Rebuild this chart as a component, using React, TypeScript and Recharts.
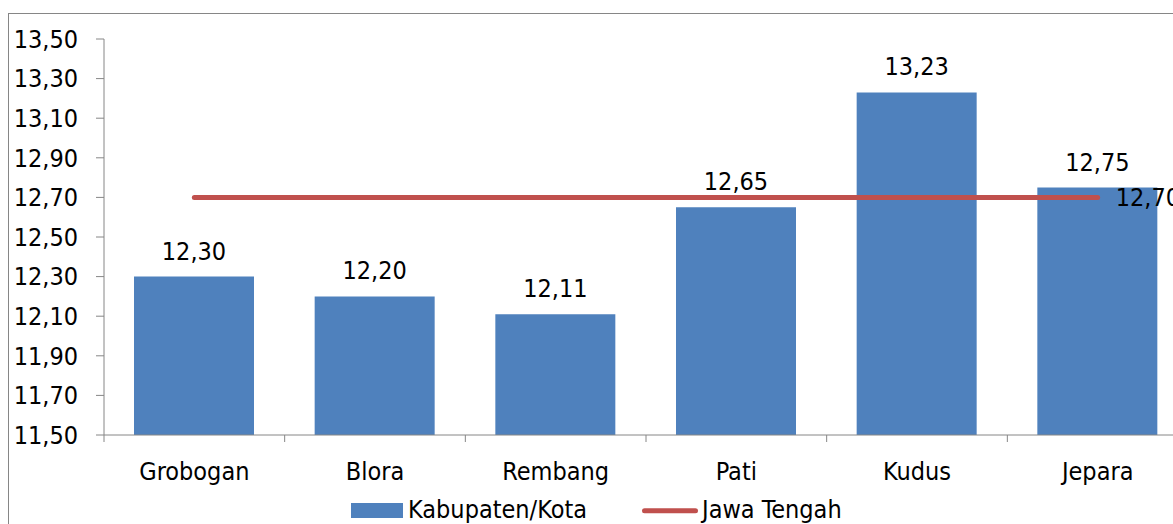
import React from 'react'
import { ComposedChart, Bar, Line, XAxis, YAxis, LabelList, Legend } from 'recharts'

const categories = ['Grobogan', 'Blora', 'Rembang', 'Pati', 'Kudus', 'Jepara']
const kabupatenKota = [12.3, 12.2, 12.11, 12.65, 13.23, 12.75]
const jawaTengah = [12.7, 12.7, 12.7, 12.7, 12.7, 12.7]
const yTicks = [11.5, 11.7, 11.9, 12.1, 12.3, 12.5, 12.7, 12.9, 13.1, 13.3, 13.5]

const data = categories.map((name, i) => ({
  name,
  kab: kabupatenKota[i],
  jateng: jawaTengah[i],
}))

const FONT = "'DejaVu Sans Condensed', 'DejaVu Sans', sans-serif"
const FS = 25
const GRAY = '#868686'
const BLUE = '#4F81BD'
const RED = '#C0504D'

const CHART_W = 1210
const CHART_H = 560
const MARGIN = { top: 39, right: 22, bottom: 75, left: 0 }
const Y_AXIS_W = 104
const BAND = (CHART_W - MARGIN.left - MARGIN.right - Y_AXIS_W) / categories.length

const fmt = (v: number) => v.toFixed(2).replace('.', ',')

const XTick = (props: any) => {
  const { x, y, payload } = props
  return (
    <g>
      <line x1={x - BAND / 2} x2={x - BAND / 2} y1={y} y2={y + 7} stroke={GRAY} />
      <text x={x} y={y + 45} textAnchor="middle" fill="#000" fontSize={FS} fontFamily={FONT}>
        {payload.value}
      </text>
    </g>
  )
}

const LastLabel = (props: any) => {
  const { x, y, value, index } = props
  if (index !== jawaTengah.length - 1) return null
  return (
    <text x={x + 18} y={y} dy="0.36em" fill="#000" fontSize={FS} fontFamily={FONT}>
      {fmt(value)}
    </text>
  )
}

const renderLegend = (props: any) => {
  const payload = props.payload || []
  const bar = payload.find((e: any) => e.type !== 'line')
  const line = payload.find((e: any) => e.type === 'line')
  return (
    <svg width={560} height={30} style={{ display: 'block' }}>
      {bar && (
        <g>
          <rect x={11} y={9} width={52} height={15} fill={bar.color} />
          <text x={68} y={24} fill="#000" fontSize={FS} fontFamily={FONT}>{bar.value}</text>
        </g>
      )}
      {line && (
        <g>
          <line x1={304.5} x2={355.5} y1={16.7} y2={16.7} stroke={line.color} strokeWidth={5} strokeLinecap="round" />
          <text x={362} y={24} fill="#000" fontSize={FS} fontFamily={FONT}>{line.value}</text>
        </g>
      )}
    </svg>
  )
}

export default function App() {
  return (
    <div style={{ position: 'absolute', left: 0, top: 0, width: 1173, height: 524, overflow: 'hidden', background: '#fff' }}>
      <div
        style={{
          position: 'absolute',
          left: 8,
          top: 13,
          width: 1300,
          height: 700,
          border: `1px solid ${GRAY}`,
        }}
      />
      <div style={{ position: 'absolute', left: 0, top: 0 }}>
        <ComposedChart width={CHART_W} height={CHART_H} data={data} margin={MARGIN}>
          <XAxis
            dataKey="name"
            stroke={GRAY}
            tickLine={false}
            tickSize={0}
            tickMargin={0}
            tick={<XTick />}
            height={50}
            interval={0}
          />
          <YAxis
            width={Y_AXIS_W}
            domain={[11.5, 13.5]}
            ticks={yTicks}
            tickFormatter={fmt}
            stroke={GRAY}
            tickSize={8}
            tickMargin={18}
            tick={{ fill: '#000', fontSize: FS, fontFamily: FONT }}
            allowDataOverflow
          />
          <Legend
            verticalAlign="middle"
            align="center"
            content={renderLegend}
            wrapperStyle={{ position: 'absolute', left: 340, top: 494, width: 560, height: 30 }}
          />
          <Bar dataKey="kab" name="Kabupaten/Kota" fill={BLUE} barSize={120} isAnimationActive={false}>
            <LabelList
              dataKey="kab"
              position="top"
              offset={17}
              formatter={(v: any) => fmt(Number(v))}
              fill="#000"
              fontSize={FS}
              fontFamily={FONT}
            />
          </Bar>
          <Line
            dataKey="jateng"
            name="Jawa Tengah"
            type="linear"
            stroke={RED}
            strokeWidth={5}
            strokeLinecap="round"
            dot={false}
            activeDot={false}
            legendType="line"
            isAnimationActive={false}
          >
            <LabelList dataKey="jateng" content={<LastLabel />} />
          </Line>
        </ComposedChart>
      </div>
    </div>
  )
}
